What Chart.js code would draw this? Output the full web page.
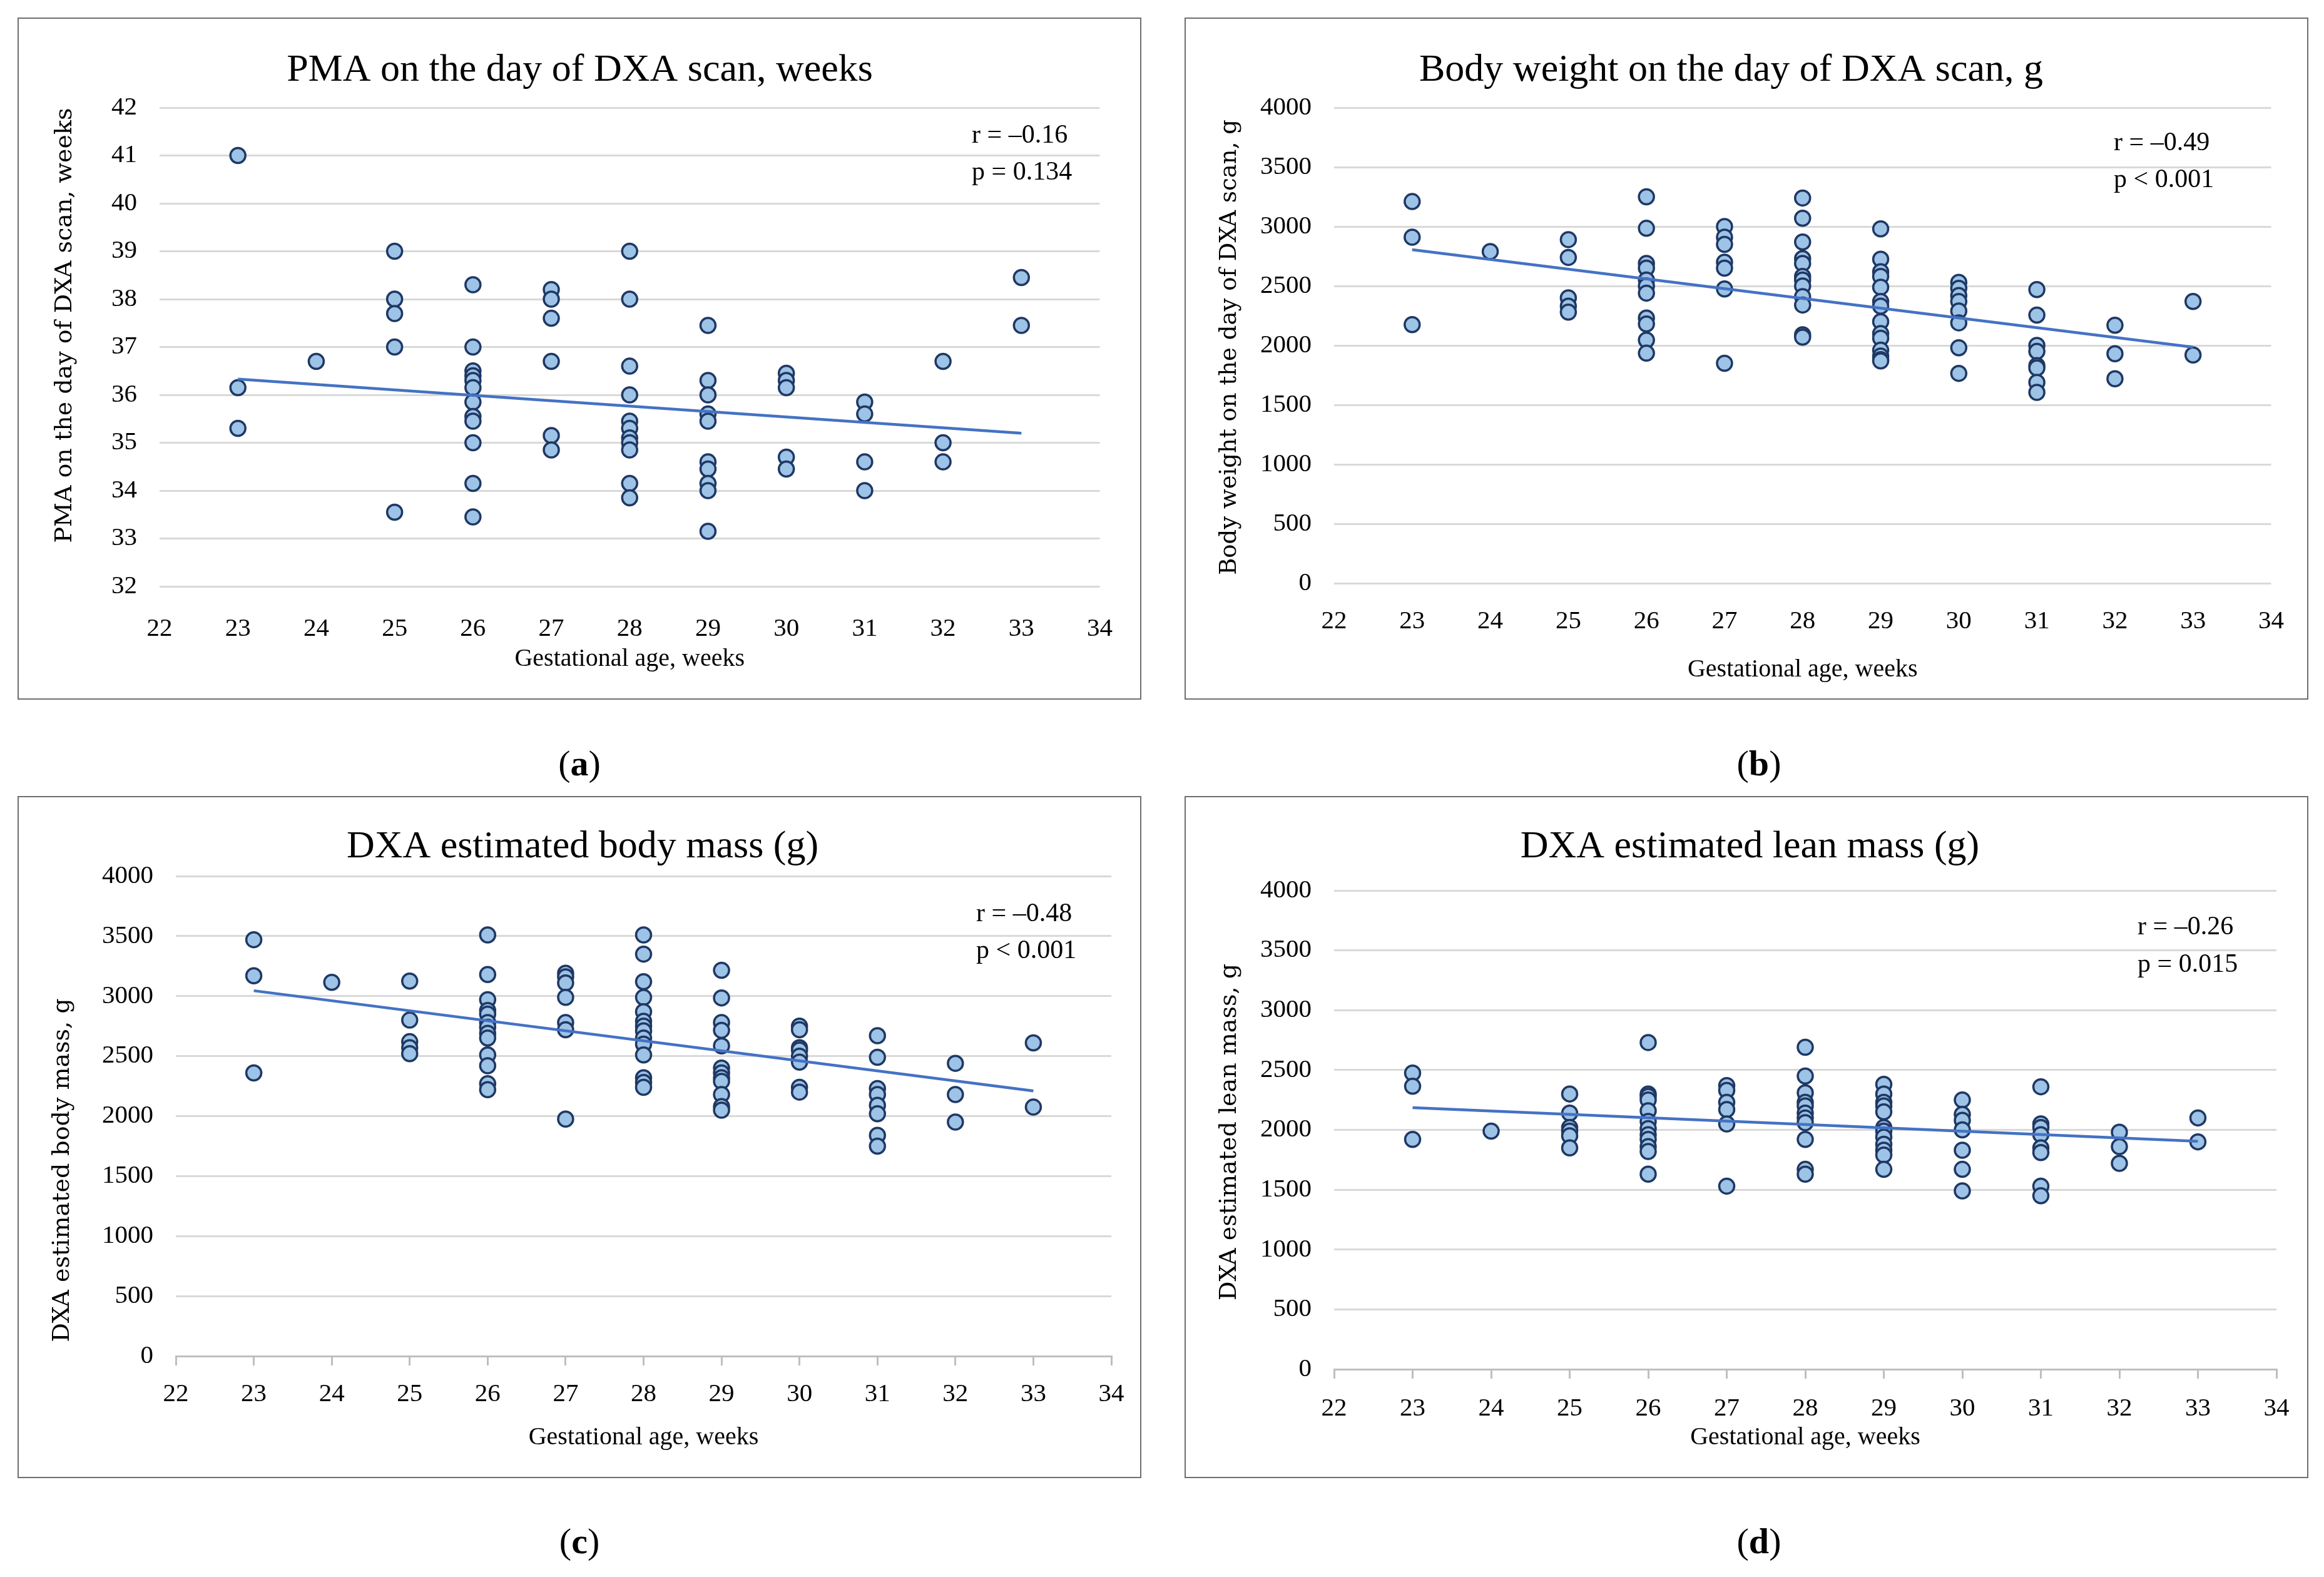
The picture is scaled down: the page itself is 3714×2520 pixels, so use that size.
<!DOCTYPE html>
<html>
<head>
<meta charset="utf-8">
<script src="https://cdn.jsdelivr.net/npm/chart.js@4.4.1/dist/chart.umd.min.js"></script>
<style>
  body { margin: 0; background: #fff; width: 3714px; height: 2520px; position: relative; font-family: "Liberation Serif", serif; }
  .panel { position: absolute; width: 1796px; height: 1090px; border: 2px solid #6e6e6e; box-sizing: border-box; }
  .panel canvas { display: block; }
  .cap { position: absolute; font-size: 58px; color: #000; transform: translateX(-50%); }
</style>
</head>
<body>
<div class="panel" style="left:28px;top:28px"><canvas id="chartA" width="1792" height="1086"></canvas></div>
<div class="panel" style="left:1893px;top:28px"><canvas id="chartB" width="1792" height="1086"></canvas></div>
<div class="panel" style="left:28px;top:1272px"><canvas id="chartC" width="1792" height="1086"></canvas></div>
<div class="panel" style="left:1893px;top:1272px"><canvas id="chartD" width="1792" height="1086"></canvas></div>
<div class="cap" style="left:926px;top:1186px">(<b>a</b>)</div>
<div class="cap" style="left:2811px;top:1186px">(<b>b</b>)</div>
<div class="cap" style="left:926px;top:2429px">(<b>c</b>)</div>
<div class="cap" style="left:2811px;top:2429px">(<b>d</b>)</div>
<script>
// gestational age groups (x) and the axis range
const weeks = [23, 24, 25, 26, 27, 28, 29, 30, 31, 32, 33];
const weekTicks = [22, 34];

// (a) PMA on the day of DXA scan, weeks
const pmaByWeek = [
    [41.0, 36.15, 35.3],
    [36.7],
    [39.0, 38.0, 37.7, 37.0, 33.55],
    [38.3, 37.0, 36.5, 36.4, 36.3, 36.15, 35.85, 35.55, 35.45, 35.0, 34.15, 33.45],
    [38.2, 38.0, 37.6, 36.7, 35.15, 34.85],
    [39.0, 38.0, 36.6, 36.0, 35.45, 35.3, 35.1, 35.0, 34.85, 34.15, 33.85],
    [37.45, 36.3, 36.0, 35.6, 35.45, 34.6, 34.45, 34.15, 34.0, 33.15],
    [36.45, 36.3, 36.15, 34.7, 34.45],
    [35.85, 35.6, 34.6, 34.0],
    [36.7, 35.0, 34.6],
    [38.45, 37.45]
];
const pmaTrend = [36.33, 35.2];
const pmaTicks = [32, 42, 1];

// (b) body weight on the day of DXA scan, g
const weightByWeek = [
    [3210, 2910, 2175],
    [2790],
    [2890, 2740, 2400, 2330, 2280],
    [3250, 2985, 2690, 2650, 2550, 2500, 2440, 2230, 2180, 2045, 1935],
    [3000, 2910, 2850, 2700, 2650, 2475, 1850],
    [3240, 3070, 2870, 2730, 2690, 2580, 2550, 2500, 2410, 2340, 2090, 2070],
    [2980, 2725, 2620, 2580, 2490, 2370, 2330, 2200, 2100, 2060, 1960, 1910, 1880, 1870],
    [2530, 2480, 2420, 2370, 2290, 2190, 1980, 1765],
    [2470, 2255, 2000, 1950, 1830, 1810, 1690, 1605],
    [2170, 1930, 1720],
    [2370, 1920]
];
const weightTrend = [2805, 1985];

// (c) DXA estimated body mass, g
const massByWeek = [
    [3470, 3170, 2360],
    [3115],
    [3125, 2800, 2620, 2570, 2520],
    [3510, 3180, 2970, 2880, 2850, 2780, 2740, 2690, 2650, 2510, 2420, 2270, 2220],
    [3190, 3160, 3110, 2990, 2780, 2720, 1975],
    [3510, 3350, 3120, 2990, 2870, 2790, 2750, 2710, 2650, 2600, 2510, 2320, 2280, 2240],
    [3215, 2985, 2780, 2715, 2585, 2400, 2360, 2320, 2290, 2180, 2080, 2050],
    [2750, 2720, 2570, 2550, 2500, 2450, 2240, 2200],
    [2670, 2490, 2230, 2180, 2090, 2020, 1840, 1750],
    [2440, 2180, 1950],
    [2610, 2075]
];
const massTrend = [3045, 2210];

// (d) DXA estimated lean mass, g
const leanByWeek = [
    [2475, 2365, 1920],
    [1990],
    [2300, 2140, 2020, 1990, 1950, 1850],
    [2730, 2300, 2280, 2250, 2160, 2070, 2010, 1960, 1920, 1860, 1820, 1630],
    [2370, 2330, 2230, 2170, 2050, 1530],
    [2690, 2450, 2310, 2230, 2200, 2140, 2100, 2060, 1920, 1670, 1630],
    [2380, 2300, 2230, 2200, 2150, 2020, 1990, 1940, 1880, 1830, 1790, 1670],
    [2250, 2130, 2080, 2000, 1830, 1670, 1490],
    [2360, 2050, 2020, 1960, 1850, 1810, 1530, 1450],
    [1980, 1860, 1720],
    [2100, 1900]
];
const leanTrend = [2185, 1905];
const gramTicks = [0, 4000, 500];

Chart.defaults.font.family = "'Liberation Serif', serif";
Chart.defaults.color = "#000";

function toPoints(byWeek) {
    return weeks.flatMap((w, i) => byWeek[i].map(v => ({ x: w, y: v })));
}

// r / p annotation in the upper right, plus the rotated y-axis title
// (Excel placed the y title off-centre, so it is drawn here)
const notesPlugin = {
    id: "notes",
    afterDraw(chart, args, opts) {
        const ctx = chart.ctx;
        ctx.save();
        ctx.fillStyle = "#000";
        ctx.font = "42px 'Liberation Serif'";
        ctx.textAlign = "left";
        ctx.textBaseline = "middle";
        opts.lines.forEach((t, i) => ctx.fillText(t, opts.x, opts.y[i]));
        ctx.font = opts.ySize + "px 'DejaVu Serif'";
        ctx.textAlign = "center";
        ctx.translate(opts.yTitleX, opts.yTitleY);
        ctx.rotate(-Math.PI / 2);
        ctx.fillText(opts.yTitle, 0, 0);
        ctx.restore();
    }
};

function makeChart(id, title, byWeek, trend, yTicks, notes, box) {
    const H = 1086, W = 1792;
    new Chart(document.getElementById(id), {
        type: "scatter",
        data: {
            datasets: [{
                type: "line",
                data: [{ x: weeks[0], y: trend[0] }, { x: weeks[weeks.length - 1], y: trend[1] }],
                borderColor: "#4472c4",
                borderWidth: 4.5,
                pointRadius: 0,
                order: 0
            }, {
                data: toPoints(byWeek),
                backgroundColor: "#9dc3e6",
                borderColor: "#1f3864",
                borderWidth: 3.5,
                pointRadius: 12,
                order: 1
            }]
        },
        options: {
            responsive: false,
            animation: false,
            devicePixelRatio: 1,
            layout: { padding: { left: box.padL, right: W - box.right, top: 0, bottom: 0 } },
            plugins: {
                legend: { display: false },
                tooltip: { enabled: false },
                title: {
                    display: true,
                    text: title,
                    color: "#000",
                    font: { size: 62, weight: "normal", lineHeight: 1 },
                    padding: { top: box.titleY - 31, bottom: box.top - box.titleY - 31 }
                },
                notes: notes
            },
            scales: {
                x: {
                    type: "linear",
                    min: weekTicks[0],
                    max: weekTicks[1],
                    ticks: { stepSize: 1, font: { size: 41 }, color: "#000", padding: box.tickPad,
                             callback: v => String(v) },
                    grid: {
                        drawOnChartArea: false,
                        drawTicks: box.xTicks,
                        tickLength: 15,
                        color: "#bfbfbf",
                        lineWidth: 3
                    },
                    border: { display: box.xTicks, color: "#bfbfbf", width: 3 },
                    title: {
                        display: true,
                        text: "Gestational age, weeks",
                        font: { size: 40, lineHeight: 1 },
                        color: "#000",
                        padding: { top: 0, bottom: H - box.xTitleY - 20 }
                    },
                    afterFit(s) { s.height = H - box.bottom; }
                },
                y: {
                    min: yTicks[0],
                    max: yTicks[1],
                    ticks: { stepSize: yTicks[2], font: { size: 41 }, color: "#000", padding: 36,
                             callback: v => String(v) },
                    grid: { color: "#d9d9d9", lineWidth: 3, drawTicks: false },
                    border: { display: false },
                    afterFit(s) { s.width = box.left - box.padL; }
                }
            }
        },
        plugins: [notesPlugin]
    });
}

makeChart("chartA", "PMA on the day of DXA scan, weeks", pmaByWeek, pmaTrend, pmaTicks,
    { lines: ["r = \u20130.16", "p = 0.134"], x: 1523, y: [187, 246],
      yTitle: "PMA on the day of DXA scan, weeks", ySize: 38, yTitleX: 74, yTitleY: 490 },
    { padL: 64, left: 225, right: 1729, top: 142, bottom: 907, titleY: 83, tickPad: 44, xTitleY: 1023, xTicks: false });

makeChart("chartB", "Body weight on the day of DXA scan, g", weightByWeek, weightTrend, gramTicks,
    { lines: ["r = \u20130.49", "p < 0.001"], x: 1483, y: [199, 258],
      yTitle: "Body weight on the day of DXA scan, g", ySize: 37, yTitleX: 70, yTitleY: 525 },
    { padL: 0, left: 237, right: 1743, top: 142, bottom: 902, titleY: 83, tickPad: 37, xTitleY: 1040, xTicks: false });

makeChart("chartC", "DXA estimated body mass (g)", massByWeek, massTrend, gramTicks,
    { lines: ["r = \u20130.48", "p < 0.001"], x: 1530, y: [187, 246],
      yTitle: "DXA estimated body mass, g", ySize: 38, yTitleX: 70, yTitleY: 596 },
    { padL: 56, left: 251, right: 1746, top: 126, bottom: 893, titleY: 80, tickPad: 22, xTitleY: 1023, xTicks: true });

makeChart("chartD", "DXA estimated lean mass (g)", leanByWeek, leanTrend, gramTicks,
    { lines: ["r = \u20130.26", "p = 0.015"], x: 1521, y: [208, 268],
      yTitle: "DXA estimated lean mass, g", ySize: 38, yTitleX: 70, yTitleY: 535 },
    { padL: 60, left: 237, right: 1743, top: 149, bottom: 914, titleY: 80, tickPad: 24, xTitleY: 1023, xTicks: true });
</script>
</body>
</html>
